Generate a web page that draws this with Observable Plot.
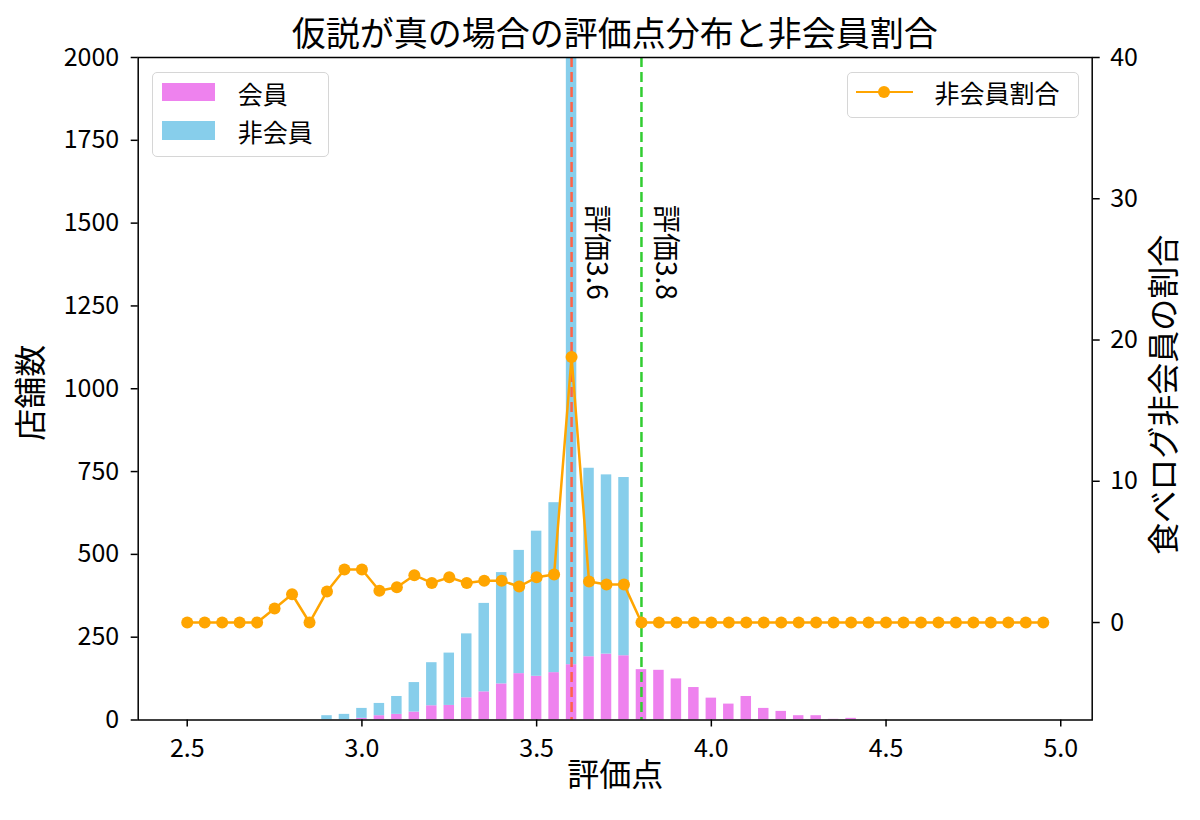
<!DOCTYPE html>
<html><head><meta charset="utf-8">
<script src="https://cdn.jsdelivr.net/npm/d3@7"></script>
<script src="https://cdn.jsdelivr.net/npm/@observablehq/plot@0.6"></script>
<style>
body{margin:0;background:#fff;font-family:"Noto Sans CJK JP",sans-serif;color:#000;}
#wrap{position:relative;width:1200px;height:820px;overflow:hidden;}
#title{position:absolute;left:137.7px;width:954px;top:15px;height:34px;line-height:34px;font-size:34px;text-align:center;white-space:nowrap;}
#chart{position:absolute;left:0;top:50px;}
.legend{position:absolute;box-sizing:border-box;border:1.5px solid #d6d6d6;border-radius:5px;background:rgba(255,255,255,0.85);}
.legend .lab{position:absolute;font-size:25px;line-height:30px;white-space:nowrap;}
.legend .patch{position:absolute;}
</style></head>
<body>
<div id="wrap">
  <div id="title">仮説が真の場合の評価点分布と非会員割合</div>
  <div id="chart"></div>
  <div class="legend" style="left:151.7px;top:71.7px;width:177.6px;height:85px;">
    <div class="patch" style="left:9.5px;top:10px;width:53.3px;height:18.4px;background:#EE82EE;"></div>
    <div class="lab" style="left:85px;top:5px;">会員</div>
    <div class="patch" style="left:9.5px;top:48.5px;width:53.3px;height:18.4px;background:#87CEEB;"></div>
    <div class="lab" style="left:85px;top:43.5px;">非会員</div>
  </div>
  <div class="legend" style="left:847.3px;top:71.7px;width:232px;height:46.6px;">
    <div class="patch" style="left:8px;top:17.9px;width:56.6px;height:2.6px;background:#FFA500;"></div>
    <div class="patch" style="left:30.2px;top:13.2px;width:12px;height:12px;border-radius:50%;background:#FFA500;"></div>
    <div class="lab" style="left:86.2px;top:4px;">非会員割合</div>
  </div>
</div>
<script>
// ---- data ----
const scores = [2.50, 2.55, 2.60, 2.65, 2.70, 2.75, 2.80, 2.85, 2.90, 2.95,
                3.00, 3.05, 3.10, 3.15, 3.20, 3.25, 3.30, 3.35, 3.40, 3.45,
                3.50, 3.55, 3.60, 3.65, 3.70, 3.75, 3.80, 3.85, 3.90, 3.95,
                4.00, 4.05, 4.10, 4.15, 4.20, 4.25, 4.30, 4.35, 4.40, 4.45,
                4.50, 4.55, 4.60, 4.65, 4.70, 4.75, 4.80, 4.85, 4.90, 4.95];
const memberCounts = [0, 0, 0, 0, 0, 0, 0, 0, 0, 0,
                      5, 13, 17, 24, 43, 44, 67, 85, 109, 140,
                      132, 143, 167, 191, 199, 194, 152, 150, 124, 98,
                      66, 48, 71, 35, 26, 13, 13, 2, 5, 0,
                      0, 0, 0, 0, 0, 0, 0, 0, 0, 0];
const nonMemberCounts = [0, 0, 0, 0, 0, 0, 0, 0, 13, 17,
                         30, 37, 54, 89, 130, 158, 193, 267, 336, 372,
                         438, 513, 2300, 569, 541, 538, 0, 0, 0, 0,
                         0, 0, 0, 0, 0, 0, 0, 0, 0, 0,
                         0, 0, 0, 0, 0, 0, 0, 0, 0, 0];
const nonMemberRatio = [0, 0, 0, 0, 0, 1.0, 2.0, 0, 2.2, 3.75,
                        3.75, 2.25, 2.5, 3.35, 2.8, 3.2, 2.8, 2.95, 2.95, 2.55,
                        3.2, 3.4, 18.8, 2.9, 2.7, 2.7, 0, 0, 0, 0,
                        0, 0, 0, 0, 0, 0, 0, 0, 0, 0,
                        0, 0, 0, 0, 0, 0, 0, 0, 0, 0];
const groups = ["会員", "非会員"];
const groupColors = ["#EE82EE", "#87CEEB"];
const xTicks = [2.5, 3.0, 3.5, 4.0, 4.5, 5.0];
const leftTicks = [0, 250, 500, 750, 1000, 1250, 1500, 1750, 2000];
const rightTicks = [0, 10, 20, 30, 40];
const refScores = [3.6, 3.8];
const refLabels = ["評価3.6", "評価3.8"];
const refColors = ["#FF6347", "#32CD32"];

// ---- scales / derived ----
const leftDomain = [0, 2000];
const rightDomain = [-6.9, 40];
const r2l = d3.scaleLinear().domain(rightDomain).range(leftDomain);
const barHalf = 0.015;

const bars = scores.flatMap((s, i) => [
  {score: s, group: groups[0], y1: 0, y2: memberCounts[i]},
  {score: s, group: groups[1], y1: memberCounts[i], y2: memberCounts[i] + nonMemberCounts[i]}
]);
const ratio = scores.map((s, i) => ({score: s, ratio: nonMemberRatio[i]}));
const refs = refScores.map((s, i) => ({score: s, label: refLabels[i], color: refColors[i]}));

const chart = Plot.plot({
  width: 1200,
  height: 770,
  marginLeft: 137.7,
  marginRight: 108.3,
  marginTop: 7,
  marginBottom: 100.5,
  style: {fontFamily: '"Noto Sans CJK JP", sans-serif', fontSize: "25px", color: "#000", background: "#fff", overflow: "visible"},
  x: {domain: [2.3597, 5.09]},
  y: {domain: leftDomain},
  color: {domain: groups, range: groupColors},
  marks: [
    Plot.rectY(bars, {x1: d => d.score - barHalf, x2: d => d.score + barHalf, y1: "y1", y2: "y2", fill: "group", clip: true}),
    Plot.ruleX(refs, {x: "score", stroke: "color", strokeWidth: 2.5, strokeDasharray: "10,5"}),
    Plot.text(refs, {x: "score", y: () => 1555, text: "label", rotate: 90, textAnchor: "start", dx: 24, fontSize: 28}),
    Plot.line(ratio, {x: "score", y: d => r2l(d.ratio), stroke: "#FFA500", strokeWidth: 2.5}),
    Plot.dot(ratio, {x: "score", y: d => r2l(d.ratio), r: 6, fill: "#FFA500"}),
    Plot.frame({stroke: "#000", strokeWidth: 1.5}),
    Plot.axisX({ticks: xTicks, tickFormat: d3.format(".1f"), tickSize: 7, tickPadding: 12, label: null, strokeWidth: 1.5}),
    Plot.axisY({ticks: leftTicks, tickFormat: d => String(d), tickSize: 7, tickPadding: 12, label: null, strokeWidth: 1.5}),
    Plot.axisY({anchor: "right", ticks: rightTicks.map(r2l), tickFormat: v => String(Math.round(r2l.invert(v))), tickSize: 7, tickPadding: 11, label: null, strokeWidth: 1.5}),
    Plot.text(["評価点"], {frameAnchor: "bottom", dy: 65.5, fontSize: 32}),
    Plot.text(["店舗数"], {frameAnchor: "left", rotate: -90, textAnchor: "middle", dx: -106.7, dy: 4, fontSize: 32}),
    Plot.text(["食べログ非会員の割合"], {frameAnchor: "right", rotate: -90, textAnchor: "middle", dx: 72.3, dy: 6, fontSize: 32})
  ]
});
document.getElementById("chart").appendChild(chart);
</script>
</body></html>
